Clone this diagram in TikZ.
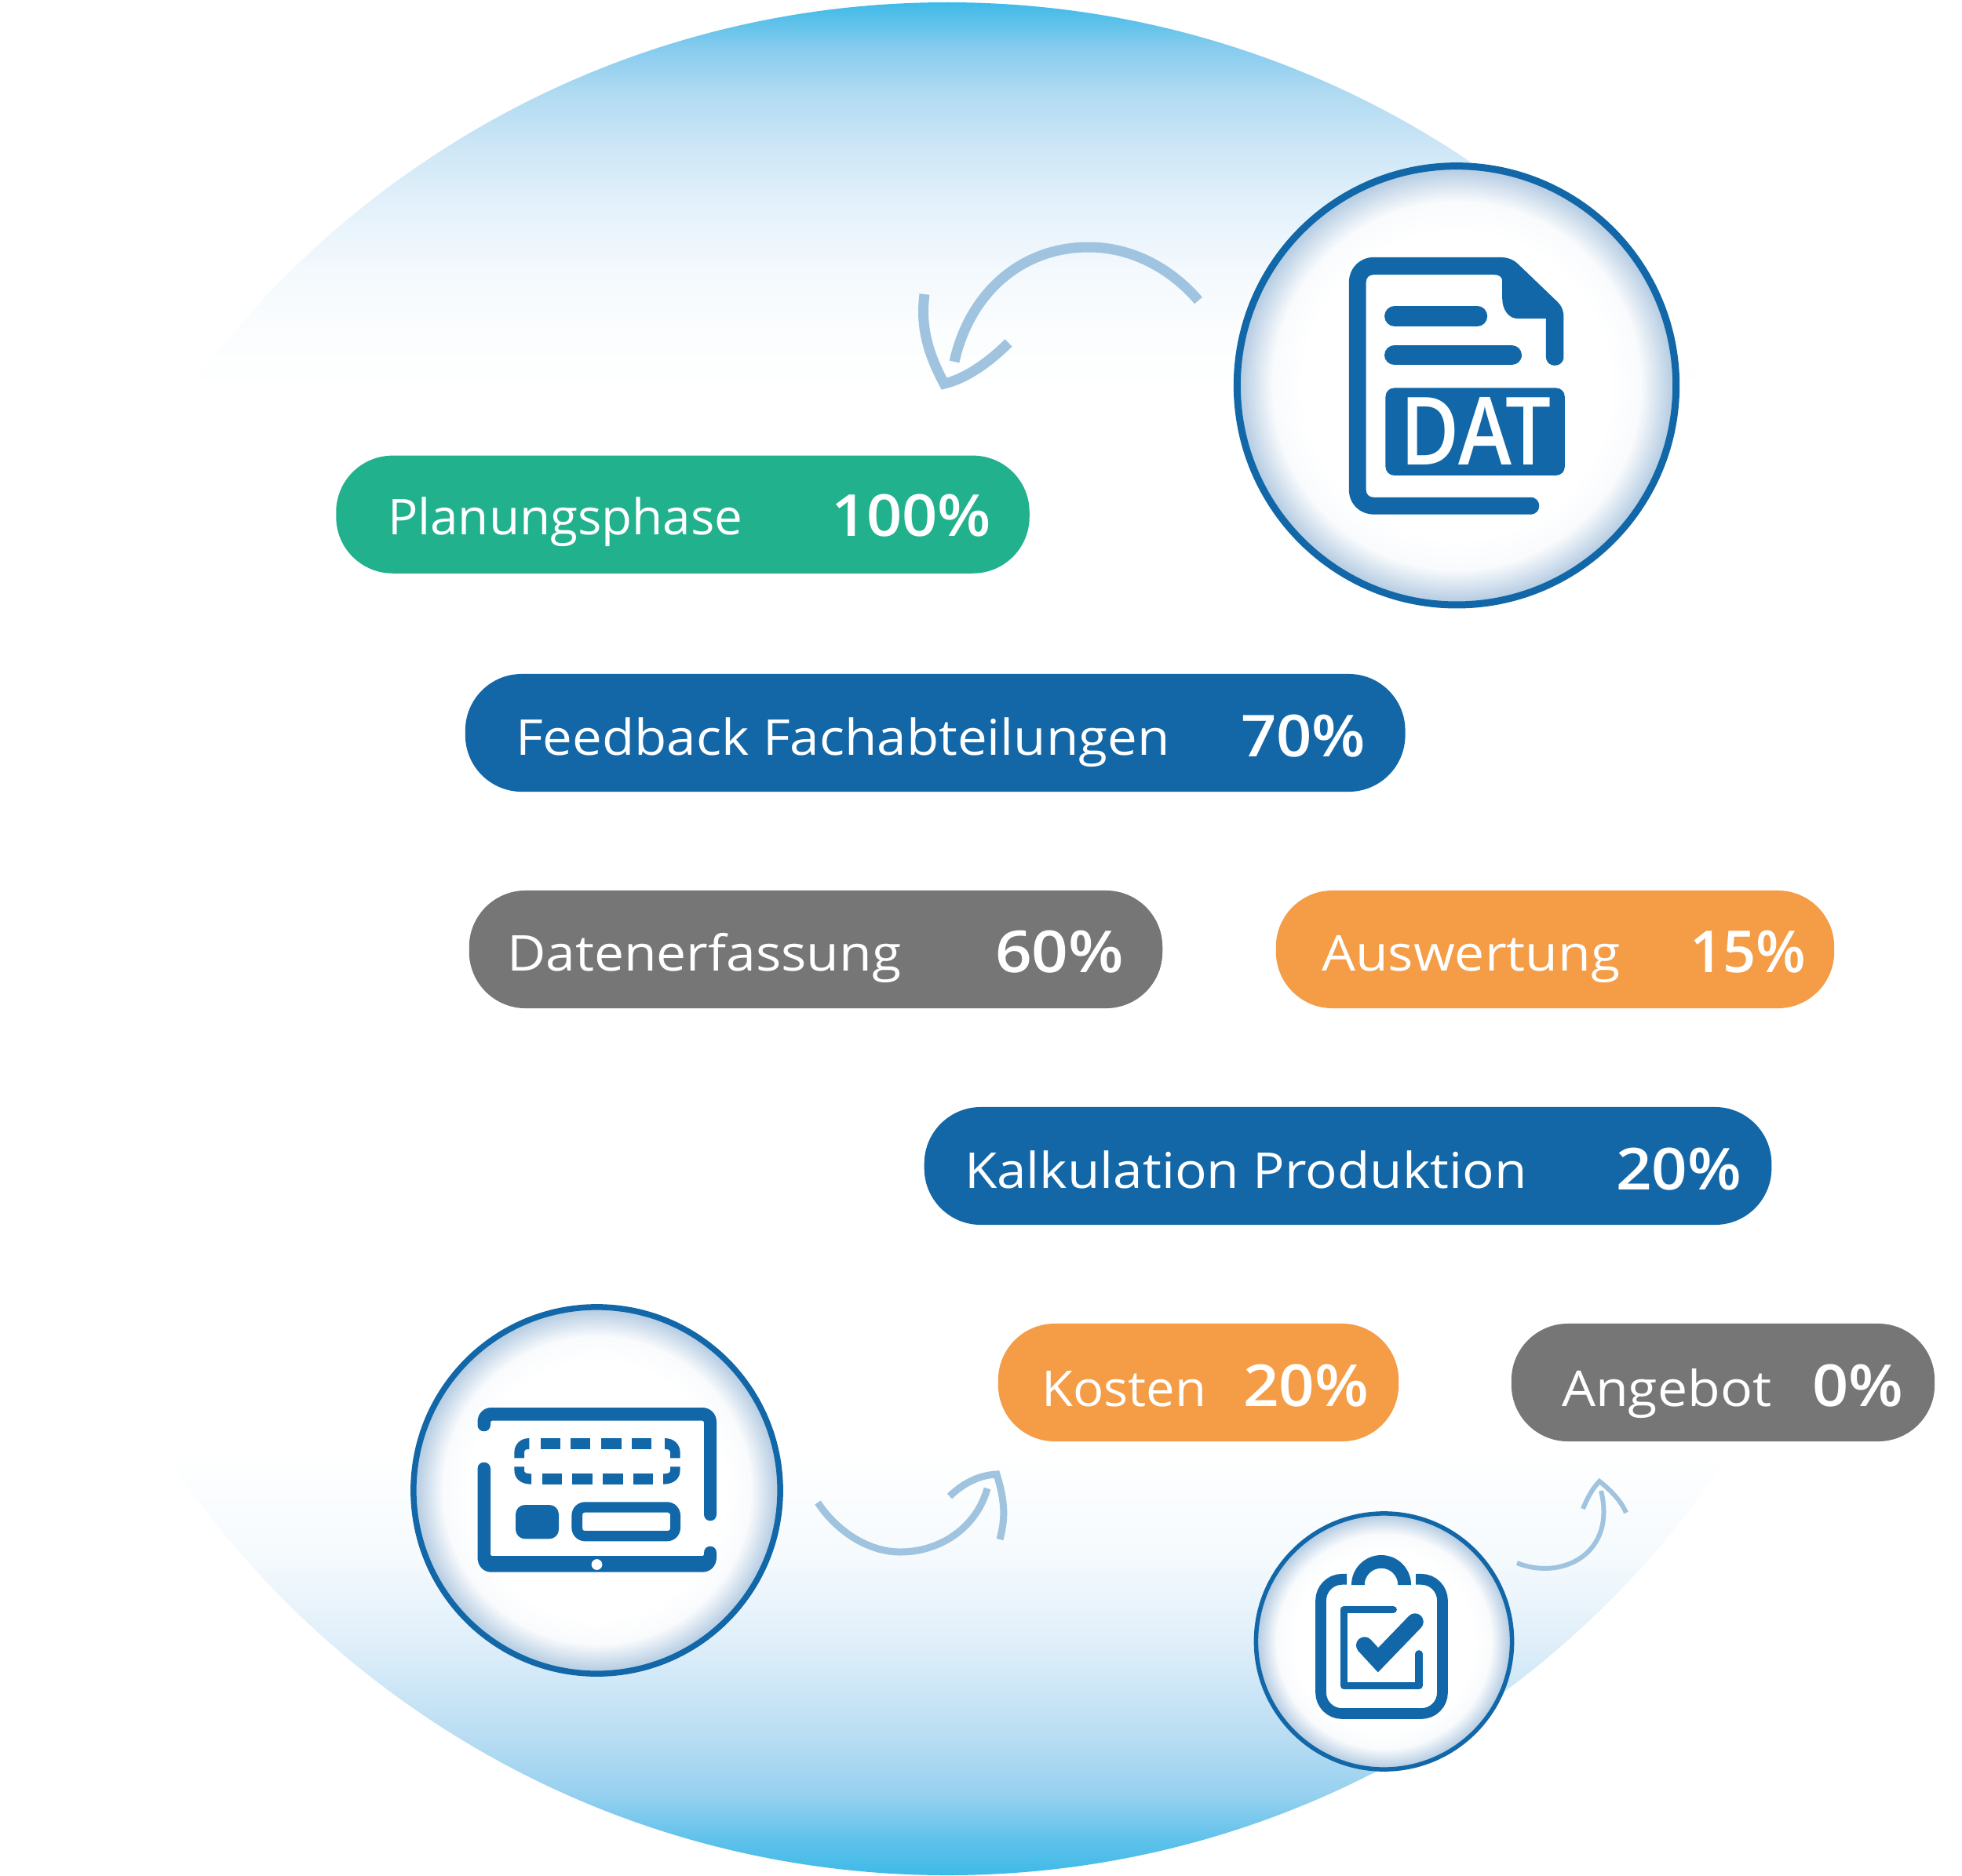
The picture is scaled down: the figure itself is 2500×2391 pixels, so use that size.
\documentclass[tikz,border=0pt]{standalone}
\usepackage{fontspec}
\usepackage{graphicx}
\setmainfont{Open Sans}
\newfontfamily\lablight{Open Sans}
\IfFontExistsTF{Open Sans Semibold}{\newfontfamily\labbold{Open Sans Semibold}}{\newfontfamily\labbold[FakeBold=0.6]{Open Sans}}
\definecolor{g0}{HTML}{3EBAE7}
\definecolor{g1}{HTML}{84CBEE}
\definecolor{g2}{HTML}{B0DAF2}
\definecolor{g3}{HTML}{CFE7F6}
\definecolor{g4}{HTML}{E5F2FB}
\definecolor{g5}{HTML}{F4F9FD}
\definecolor{g6}{HTML}{FBFDFE}
\definecolor{g7}{HTML}{F5FAFD}
\definecolor{g8}{HTML}{DEEEF9}
\definecolor{g9}{HTML}{B9DDF3}
\definecolor{g10}{HTML}{95D0EF}
\definecolor{g11}{HTML}{5DC1EB}
\definecolor{iconblue}{HTML}{1167A7}
\definecolor{pblue}{HTML}{1467A7}
\definecolor{pgreen}{HTML}{22B18D}
\definecolor{pgrey}{HTML}{757675}
\definecolor{porange}{HTML}{F49C46}
\definecolor{arrowblue}{HTML}{A0C4DF}
\definecolor{ballrim}{HTML}{AFC8E0}
\pgfdeclareverticalshading{bgfade}{100bp}{
 color(0bp)=(g0); color(25bp)=(g0); color(25.9bp)=(g11); color(27.1bp)=(g10); color(28.7bp)=(g9);
 color(31.1bp)=(g8); color(33.5bp)=(g7); color(36.3bp)=(white); color(64.55bp)=(white);
 color(66.2bp)=(g6); color(67.8bp)=(g5); color(69.41bp)=(g4); color(71.04bp)=(g3);
 color(72.61bp)=(g2); color(73.83bp)=(g1); color(75bp)=(g0); color(100bp)=(g0)}
\pgfdeclareradialshading{ballfade}{\pgfpoint{0bp}{0bp}}{
 color(0bp)=(white); color(17.5bp)=(white); color(21bp)=(white!92!ballrim); color(25bp)=(ballrim); color(50bp)=(ballrim)}
\tikzset{
 icon/.style={fill=iconblue,draw=none},
 iconline/.style={draw=iconblue,line cap=round},
 ball/.style={circle,shading=ballfade,draw=iconblue,inner sep=0pt,outer sep=0pt},
 pill/.style={rounded corners=0.72cm,minimum height=1.5cm,inner sep=0pt,outer sep=0pt,draw=none},
 lab/.style={text=white,anchor=base west,inner sep=0pt,outer sep=0pt,font=\lablight\fontsize{17.9pt}{20pt}\selectfont},
 val/.style={text=white,anchor=base west,inner sep=0pt,outer sep=0pt,font=\labbold\fontsize{21pt}{24pt}\selectfont},
 swoosh/.style={draw=arrowblue,line cap=butt,miter limit=10},
}
\newcommand{\fitx}[2]{\resizebox{#1cm}{\height}{#2}}
\begin{document}
\begin{tikzpicture}[x=0.01cm,y=-0.01cm]
\useasboundingbox (0,0) rectangle (2500,2391);
\fill[white] (0,0) rectangle (2500,2391);
% big backdrop disc
\shade[shading=bgfade] (1207,1196.5) circle[radius=1193.5];

% circles
\node[ball,minimum size=5.59cm,line width=0.09cm] (cdat) at (1856,491.3) {};
\node[ball,minimum size=4.67cm,line width=0.075cm] (ctab) at (760.5,1899.5) {};
\node[ball,minimum size=3.26cm,line width=0.055cm] (cclip) at (1763.5,2092) {};

% pills
\node[pill,fill=pgreen,minimum width=8.83cm] (p1) at (870,655.7) {};
\node[pill,fill=pblue,minimum width=11.97cm] (p2) at (1191.7,934) {};
\node[pill,fill=pgrey,minimum width=8.83cm] (p3) at (1039.5,1210) {};
\node[pill,fill=porange,minimum width=7.11cm] (p4) at (1981.5,1210) {};
\node[pill,fill=pblue,minimum width=10.79cm] (p5) at (1717.5,1486) {};
\node[pill,fill=porange,minimum width=5.10cm] (p6) at (1527,1762) {};
\node[pill,fill=pgrey,minimum width=5.39cm] (p7) at (2195.5,1762) {};

% pill texts
\node[lab] (t1) at (494,681) {\fitx{4.52}{Planungsphase}};
\node[val] (v1) at (1059,683) {\fitx{2.04}{100\%}};
\node[lab] (t2) at (657,962) {\fitx{8.33}{Feedback Fachabteilungen}};
\node[val] (v2) at (1581,964) {\fitx{1.59}{70\%}};
\node[lab] (t3) at (646,1237) {\fitx{5.02}{Datenerfassung}};
\node[val] (v3) at (1268,1239) {\fitx{1.64}{60\%}};
\node[lab] (t4) at (1684,1237) {\fitx{3.80}{Auswertung}};
\node[val] (v4) at (2153,1239) {\fitx{1.48}{15\%}};
\node[lab] (t5) at (1229,1514) {\fitx{7.16}{Kalkulation Produktion}};
\node[val] (v5) at (2059,1516) {\fitx{1.60}{20\%}};
\node[lab] (t6) at (1327,1792) {\fitx{2.10}{Kosten}};
\node[val] (v6) at (1584,1792) {\fitx{1.60}{20\%}};
\node[lab] (t7) at (1990,1792) {\fitx{2.67}{Angebot}};
\node[val] (v7) at (2309,1792) {\fitx{1.16}{0\%}};

% document icon
\begin{scope}[shift={(1560,190)},scale=0.995,shift={(-1560,-190)}]
\fill[icon] (1752,328.5) -- (1912,328.5) .. controls (1922,328.5) and (1930,331) .. (1937,338) -- (1987,386) .. controls (1992,391) and (1994.6,397) .. (1994.6,405) -- (1994.6,456) .. controls (1994.6,471) and (1972,471) .. (1972,456) -- (1972,407) -- (1935,407) .. controls (1924,407) and (1916,395) .. (1916,382) -- (1916,359) .. controls (1916,354) and (1912,351) .. (1906,351) -- (1751,351) .. controls (1745,351) and (1741.5,355) .. (1741.5,361) -- (1741.5,626) .. controls (1741.5,632) and (1745,636) .. (1751,636) -- (1952,636) .. controls (1967,636) and (1967,658) .. (1952,658) -- (1752,658) .. controls (1733,658) and (1719.6,644) .. (1719.6,626) -- (1719.6,361) .. controls (1719.6,343) and (1733,328.5) .. (1752,328.5) -- cycle;
\draw[iconline,line width=0.256cm] (1778,404) -- (1884,404);
\draw[iconline,line width=0.256cm] (1778,454) -- (1928,454);
\fill[icon,rounded corners=0.11cm] (1766.5,496) rectangle (1996,608);
\node[text=white,anchor=base west,inner sep=0pt,outer sep=0pt,font=\labbold\fontsize{34.4pt}{36pt}\selectfont] (dat) at (1786,595) {\resizebox{1.92cm}{0.86cm}{DAT}};
\end{scope}

% tablet icon
\fill[icon] (608.5,1816) -- (608.5,1812) .. controls (608.5,1802) and (616,1794) .. (626,1794) -- (895,1794) .. controls (905,1794) and (913,1802) .. (913,1812) -- (913,1930) .. controls (913,1941) and (897,1941) .. (897,1930) -- (897,1813) .. controls (897,1811.5) and (896,1810.7) .. (895,1810.7) -- (627,1810.7) .. controls (626,1810.7) and (625,1811.5) .. (625,1813) -- (625,1816) .. controls (625,1827) and (608.5,1827) .. (608.5,1816) -- cycle;
\fill[icon,even odd rule] (608.5,1872) .. controls (608.5,1861) and (625,1861) .. (625,1872) -- (625,1981) .. controls (625,1982.3) and (626,1983) .. (627,1983) -- (895,1983) .. controls (896,1983) and (897,1982.3) .. (897,1981) -- (897,1979) .. controls (897,1968) and (913,1968) .. (913,1979) -- (913,1985) .. controls (913,1996) and (905,2003.7) .. (895,2003.7) -- (626,2003.7) .. controls (616,2003.7) and (608.5,1996) .. (608.5,1985) -- cycle (760.5,1994) circle[radius=7];
\foreach \a/\b in {688.6/714,726.8/752.3,766/791.6,805/830.4} \fill[icon] (\a,1833) rectangle (\b,1847);
\foreach \a/\b in {690.6/716,729.4/755,768/793.7,807/832.4} \fill[icon] (\a,1878.3) rectangle (\b,1891.7);
\fill[icon] (674.3,1833) .. controls (663,1833) and (655.4,1841) .. (655.4,1851) -- (655.4,1858.3) -- (668,1858.3) -- (668,1850) .. controls (668,1848) and (670,1847) .. (674.3,1847) -- cycle;
\fill[icon] (677,1891.7) .. controls (663,1891.7) and (655.4,1884) .. (655.4,1874) -- (655.4,1869.3) -- (668,1869.3) -- (668,1874) .. controls (668,1877) and (670,1878.3) .. (677,1878.3) -- cycle;
\fill[icon] (847,1833) .. controls (859,1833) and (866.6,1841) .. (866.6,1851) -- (866.6,1858.3) -- (854,1858.3) -- (854,1850) .. controls (854,1848) and (852,1847) .. (847,1847) -- cycle;
\fill[icon] (845,1891.7) .. controls (859,1891.7) and (866.6,1884) .. (866.6,1874) -- (866.6,1869.3) -- (854,1869.3) -- (854,1874) .. controls (854,1877) and (852,1878.3) .. (845,1878.3) -- cycle;
\fill[icon,rounded corners=0.12cm] (657,1918) rectangle (712,1961.3);
\fill[icon,even odd rule] [rounded corners=0.17cm] (728.4,1914.3) rectangle (867,1964.3) [rounded corners=0.03cm] (742,1927.7) rectangle (854,1951);

% clipboard icon
\draw[draw=iconblue,line width=0.137cm] (1716,2012.8) -- (1710,2012.8) .. controls (1695,2012.8) and (1683,2025) .. (1683,2040) -- (1683,2157) .. controls (1683,2172) and (1695,2184) .. (1710,2184) -- (1811,2184) .. controls (1826,2184) and (1838,2172) .. (1838,2157) -- (1838,2040) .. controls (1838,2025) and (1826,2012.8) .. (1811,2012.8) -- (1804,2012.8);
\fill[icon] (1722,2020) arc[start angle=180,end angle=360,radius=38] -- (1781.3,2020) arc[start angle=360,end angle=180,radius=21.3] -- cycle;
\draw[iconline,line width=0.097cm,line join=round] (1775,2051.5) -- (1712.5,2051.5) -- (1712.5,2148.5) -- (1808,2148.5) -- (1808,2108);
\draw[iconline,line width=0.215cm,line join=miter] (1738.7,2097) -- (1756,2115.7) -- (1803,2067);

% arrows
\coordinate (a1s) at (1527,383);
\coordinate (a1e) at (1216,461);
\coordinate (a1l) at (1178,375);
\coordinate (a1t) at (1203,489);
\coordinate (a1r) at (1285,437);
\draw[swoosh,line width=0.13cm] (a1s) .. controls (1490,340) and (1440,315) .. (1387,315) .. controls (1300,315) and (1235,375) .. (a1e);
\draw[swoosh,line width=0.13cm] (a1l) .. controls (1172,420) and (1185,455) .. (a1t) .. controls (1230,483) and (1260,462) .. (a1r);

\coordinate (a2s) at (1042,1915);
\coordinate (a2e) at (1258,1897);
\coordinate (a2l) at (1210,1907);
\coordinate (a2t) at (1270,1879);
\coordinate (a2r) at (1274,1962);
\draw[swoosh,line width=0.09cm] (a2s) .. controls (1065,1950) and (1105,1978) .. (1147,1978) .. controls (1200,1978) and (1245,1945) .. (a2e);
\draw[swoosh,line width=0.09cm] (a2l) .. controls (1230,1888) and (1250,1880) .. (a2t) .. controls (1281,1915) and (1281,1935) .. (a2r);

\coordinate (a3s) at (1933,1992);
\coordinate (a3e) at (2040,1900);
\coordinate (a3l) at (2017,1923);
\coordinate (a3t) at (2038,1888);
\coordinate (a3r) at (2072,1928);
\draw[swoosh,line width=0.06cm] (a3s) .. controls (1990,2015) and (2060,1980) .. (a3e);
\draw[swoosh,line width=0.06cm] (a3l) .. controls (2023,1908) and (2030,1896) .. (a3t) .. controls (2052,1899) and (2065,1912) .. (a3r);
\end{tikzpicture}
\end{document}
